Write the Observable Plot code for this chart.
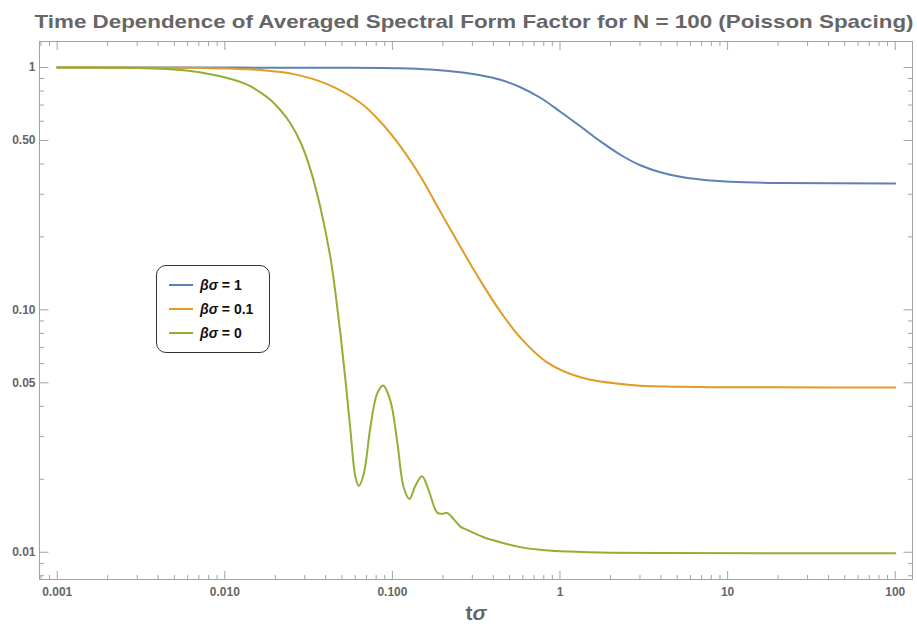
<!DOCTYPE html>
<html><head><meta charset="utf-8">
<script src="https://cdn.jsdelivr.net/npm/d3@7"></script>
<script src="https://cdn.jsdelivr.net/npm/@observablehq/plot@0.6"></script>
<style>
html,body{margin:0;padding:0;background:#fff;}
#wrap{position:relative;width:917px;height:624px;font-family:"Liberation Sans",Arial,sans-serif;}
#legend{position:absolute;left:156px;top:265px;width:114px;height:88px;box-sizing:border-box;border:1px solid #333;border-radius:10px;background:#fff;}
.row{position:absolute;left:12px;height:16px;line-height:16px;font-size:14px;font-weight:bold;color:#111;white-space:nowrap;}
.sw{display:inline-block;width:24px;height:2px;vertical-align:middle;margin-right:7px;position:relative;top:-1px;}
</style></head>
<body><div id="wrap"></div>
<script>
const title = "Time Dependence of Averaged Spectral Form Factor for N = 100 (Poisson Spacing)";
const xLabel = "tσ";
const legendValues = ["1", "0.1", "0"];
const colors = ["#5E81B5", "#E19C24", "#8FB032"];

const xMajor = [0.001, 0.01, 0.1, 1, 10, 100];
const xMajorLabels = ["0.001", "0.010", "0.100", "1", "10", "100"];
const xMinor = [0.0008, 0.0009,
  0.002, 0.003, 0.004, 0.005, 0.006, 0.007, 0.008, 0.009,
  0.02, 0.03, 0.04, 0.05, 0.06, 0.07, 0.08, 0.09,
  0.2, 0.3, 0.4, 0.5, 0.6, 0.7, 0.8, 0.9,
  2, 3, 4, 5, 6, 7, 8, 9,
  20, 30, 40, 50, 60, 70, 80, 90];
const yMajor = [1, 0.5, 0.1, 0.05, 0.01];
const yMajorLabels = ["1", "0.50", "0.10", "0.05", "0.01"];
const yMinor = [0.9, 0.8, 0.7, 0.6, 0.4, 0.3, 0.2, 0.09, 0.08, 0.07, 0.06, 0.04, 0.03, 0.02, 0.009, 0.008];

// [tσ, SFF]
const beta1 = [
  [0.001, 1.0], [0.0072, 0.999], [0.0427, 0.997], [0.1116, 0.992], [0.1685, 0.980], [0.2544, 0.955],
  [0.3348, 0.929], [0.4406, 0.890], [0.5798, 0.829], [0.763, 0.750], [1.004, 0.657], [1.322, 0.572],
  [1.740, 0.496], [2.290, 0.4365], [3.013, 0.395], [3.966, 0.3697], [5.22, 0.354], [6.87, 0.345],
  [10.37, 0.3379], [20.6, 0.3337], [100, 0.3324]
];
const beta01 = [
  [0.001, 1.0], [0.0045, 0.998], [0.0072, 0.995], [0.0113, 0.988], [0.0163, 0.976], [0.0258, 0.939],
  [0.0408, 0.854], [0.0644, 0.715], [0.0848, 0.597], [0.1116, 0.473], [0.1469, 0.356],
  [0.1933, 0.254], [0.2544, 0.182], [0.3348, 0.132], [0.4406, 0.0983], [0.5798, 0.0768],
  [0.837, 0.0607], [1.322, 0.0527], [2.627, 0.049], [6.87, 0.0481], [20, 0.0479], [100, 0.0478]
];
const beta0 = [
  [0.001, 1.0], [0.0024, 0.998], [0.0045, 0.985], [0.0072, 0.954], [0.0113, 0.89], [0.0136, 0.849],
  [0.0163, 0.790], [0.0187, 0.736], [0.0215, 0.666], [0.0246, 0.589], [0.0283, 0.4915],
  [0.0324, 0.380], [0.0372, 0.264], [0.0427, 0.164], [0.0457, 0.1178], [0.0490, 0.0794],
  [0.0525, 0.0511], [0.0562, 0.0318], [0.0602, 0.0204], [0.0630, 0.0188], [0.0674, 0.0210],
  [0.0739, 0.0328], [0.0810, 0.0450], [0.0880, 0.0487], [0.0972, 0.0422], [0.1066, 0.0289],
  [0.1168, 0.0185], [0.1263, 0.0166], [0.1371, 0.0188], [0.1503, 0.0206], [0.1646, 0.0180],
  [0.1847, 0.0146], [0.1979, 0.0144], [0.2119, 0.01454], [0.2320, 0.0137], [0.2544, 0.01276],
  [0.2789, 0.01237], [0.3503, 0.01153], [0.4406, 0.0110], [0.5798, 0.0105], [0.763, 0.01023],
  [1.004, 0.01009], [1.74, 0.00998], [3.97, 0.00993], [100, 0.0099]
];
const series = [beta1, beta01, beta0];

const grey = "#a3a3a3";
const labelColor = "#666";
const xFmt = new Map(xMajor.map((v, i) => [v, xMajorLabels[i]]));
const yFmt = new Map(yMajor.map((v, i) => [v, yMajorLabels[i]]));
const blank = () => "";

const chart = Plot.plot({
  width: 917, height: 624,
  marginLeft: 39, marginRight: 5, marginTop: 41, marginBottom: 45,
  x: {type: "log", domain: [0.000784, 126.8]},
  y: {type: "log", domain: [0.00772, 1.28]},
  style: {fontFamily: "'Liberation Sans', Arial, sans-serif", background: "white"},
  marks: [
    Plot.frame({stroke: grey}),
    // inward ticks on all four sides
    Plot.axisX(xMajor, {anchor: "bottom", tickSize: 8, dy: -8, stroke: grey, fill: "none", tickFormat: blank, label: null}),
    Plot.axisX(xMinor, {anchor: "bottom", tickSize: 4, dy: -4, stroke: grey, fill: "none", tickFormat: blank, label: null}),
    Plot.axisX(xMajor, {anchor: "top", tickSize: 8, dy: 8, stroke: grey, fill: "none", tickFormat: blank, label: null}),
    Plot.axisX(xMinor, {anchor: "top", tickSize: 4, dy: 4, stroke: grey, fill: "none", tickFormat: blank, label: null}),
    Plot.axisY(yMajor, {anchor: "left", tickSize: 9.5, dx: 9.5, stroke: grey, fill: "none", tickFormat: blank, label: null}),
    Plot.axisY(yMinor, {anchor: "left", tickSize: 5, dx: 5, stroke: grey, fill: "none", tickFormat: blank, label: null}),
    Plot.axisY(yMajor, {anchor: "right", tickSize: 9.5, dx: -9.5, stroke: grey, fill: "none", tickFormat: blank, label: null}),
    Plot.axisY(yMinor, {anchor: "right", tickSize: 5, dx: -5, stroke: grey, fill: "none", tickFormat: blank, label: null}),
    // tick labels
    Plot.axisX(xMajor, {anchor: "bottom", tickSize: 0, tickPadding: 7.5, tickFormat: d => xFmt.get(d), fill: labelColor, fontSize: 12, fontWeight: "bold", label: null}),
    Plot.axisY(yMajor, {anchor: "left", tickSize: 0, tickPadding: 4, tickFormat: d => yFmt.get(d), fill: labelColor, fontSize: 12, fontWeight: "bold", label: null}),
    // curves
    ...series.map((s, i) => Plot.line(s, {x: d => d[0], y: d => d[1], stroke: colors[i], strokeWidth: 2, curve: "catmull-rom"})),
    // title and axis label
    Plot.text([title], {text: d => d, frameAnchor: "top", lineAnchor: "bottom", dy: -14, dx: -2, fontSize: 19, fontWeight: "bold", fill: labelColor}),
    Plot.text([xLabel], {text: d => d, frameAnchor: "bottom", lineAnchor: "bottom", dy: 40, fontSize: 21, fontWeight: "bold", fill: labelColor})
  ]
});

const svg = d3.select(chart);
svg.selectAll("text").each(function () {
  if (this.textContent === title) {
    this.setAttribute("textLength", 879);
    this.setAttribute("lengthAdjust", "spacingAndGlyphs");
  } else if (this.textContent === xLabel) {
    const el = d3.select(this);
    el.text("t");
    el.append("tspan").attr("font-style", "italic").text("σ");
  }
});

const wrap = document.getElementById("wrap");
wrap.appendChild(chart);

const legend = d3.select(wrap).append("div").attr("id", "legend");
legendValues.forEach((v, i) => {
  const row = legend.append("div").attr("class", "row").style("top", (11 + i * 24) + "px");
  row.append("span").attr("class", "sw").style("background", colors[i]);
  row.append("i").text("βσ");
  row.append("span").text(" = " + v);
});
</script>
</body></html>
